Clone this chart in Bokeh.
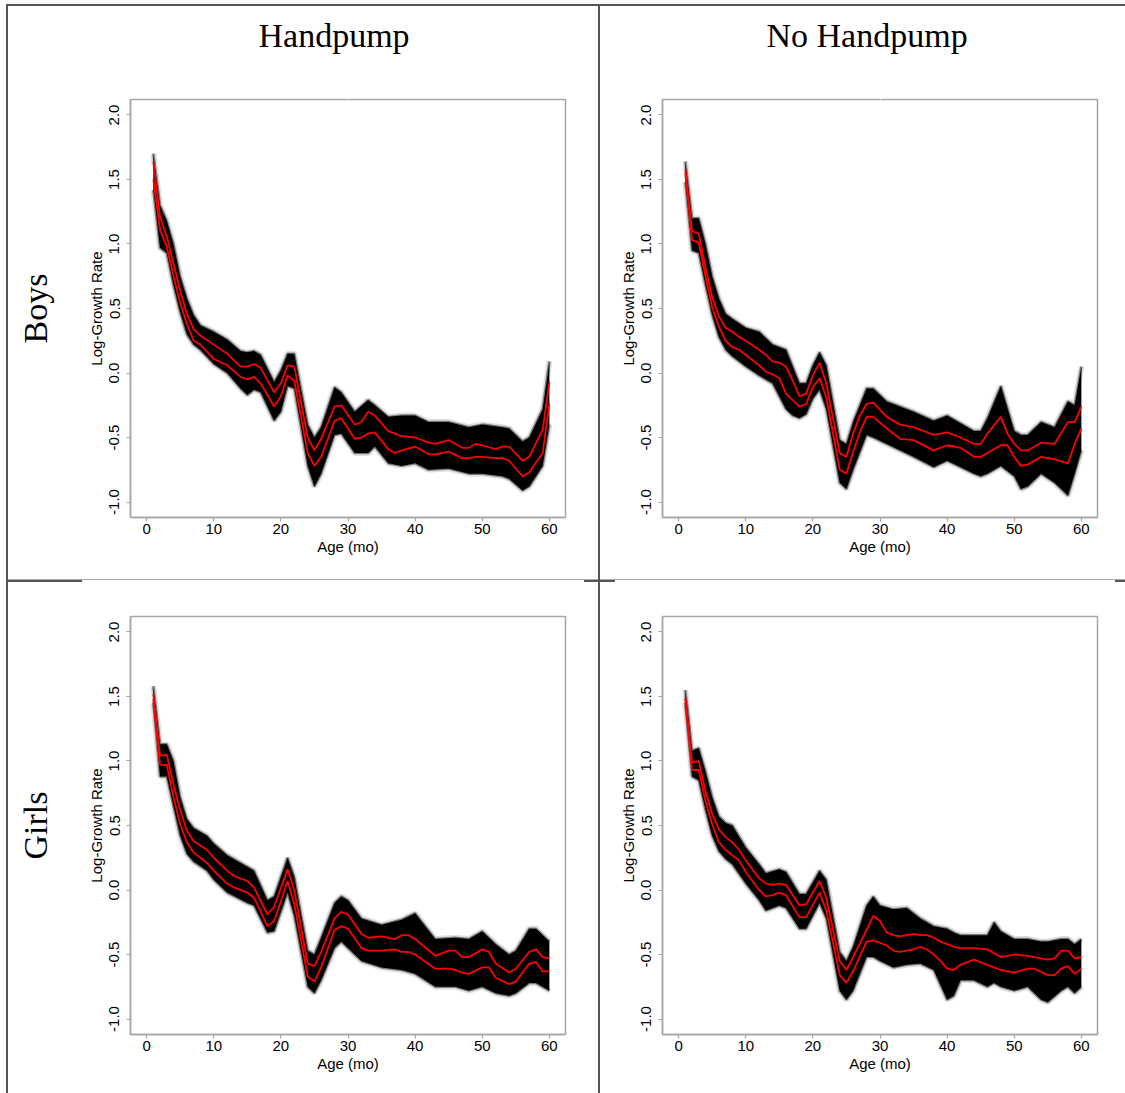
from bokeh.embed import file_html
from bokeh.layouts import column, row
from bokeh.models import (CustomJSTickFormatter, FixedTicker, LinearAxis, PrintfTickFormatter,
                          Range1d, Title)
from bokeh.plotting import figure
from bokeh.resources import INLINE

# ---------------------------------------------------------------- data
AGE_TICKS = [0, 10, 20, 30, 40, 50, 60]
RATE_TICKS = [-1.0, -0.5, 0.0, 0.5, 1.0, 1.5, 2.0]
COL_TITLES = ["Handpump", "No Handpump"]
ROW_TITLES = ["Boys", "Girls"]

# Boys, handpump
bh_red_m = [1, 2, 3, 4, 5, 6, 7, 8, 10, 12, 14, 15, 16, 17, 19, 20, 21, 22, 24, 25, 26, 28, 29,
            31, 32, 33, 34, 36, 37, 38, 40, 42, 43, 45, 47, 48, 49, 50, 52, 53, 54, 56, 57, 59, 60]
bh_red_hi = [1.64, 1.21, 1.06, 0.85, 0.64, 0.46, 0.34, 0.29, 0.22, 0.15, 0.05, 0.05, 0.07, 0.04,
             -0.15, -0.08, 0.06, 0.05, -0.50, -0.60, -0.51, -0.26, -0.25, -0.40, -0.38, -0.30,
             -0.33, -0.45, -0.47, -0.49, -0.50, -0.54, -0.55, -0.52, -0.58, -0.58, -0.55, -0.56,
             -0.59, -0.57, -0.57, -0.68, -0.65, -0.44, -0.07]
bh_red_lo = [1.50, 1.11, 0.98, 0.75, 0.54, 0.38, 0.25, 0.22, 0.11, 0.06, -0.03, -0.05, -0.03, -0.08,
             -0.26, -0.18, -0.02, -0.06, -0.62, -0.72, -0.65, -0.37, -0.35, -0.51, -0.50, -0.47,
             -0.46, -0.59, -0.62, -0.60, -0.57, -0.63, -0.63, -0.61, -0.66, -0.66, -0.65, -0.65,
             -0.66, -0.66, -0.68, -0.80, -0.77, -0.62, -0.24]
bh_band_m = [1, 2, 3, 4, 5, 6, 7, 8, 10, 12, 14, 15, 16, 17, 19, 20, 21, 22, 24, 25, 26, 28, 29,
             31, 33, 34, 36, 38, 40, 42, 45, 48, 50, 53, 54, 56, 57, 59, 60]
bh_band_hi = [1.70, 1.30, 1.18, 1.00, 0.75, 0.58, 0.45, 0.37, 0.32, 0.26, 0.17, 0.16, 0.17, 0.14,
              -0.07, 0.02, 0.15, 0.15, -0.40, -0.50, -0.42, -0.11, -0.15, -0.30, -0.21, -0.25,
              -0.34, -0.33, -0.33, -0.38, -0.38, -0.42, -0.40, -0.42, -0.43, -0.53, -0.50, -0.28, 0.09]
bh_band_lo = [1.42, 0.97, 0.93, 0.68, 0.47, 0.30, 0.22, 0.18, 0.07, 0.00, -0.12, -0.17, -0.13, -0.15,
              -0.37, -0.30, -0.10, -0.12, -0.72, -0.88, -0.78, -0.48, -0.47, -0.62, -0.62, -0.57,
              -0.70, -0.72, -0.70, -0.75, -0.74, -0.78, -0.78, -0.80, -0.82, -0.91, -0.88, -0.72, -0.40]

# Boys, no handpump
bn_red_m = [1, 2, 3, 4, 5, 6, 7, 8, 9, 10, 12, 13, 14, 15, 16, 17, 18, 19, 20, 21, 22, 24, 25, 26,
            27, 28, 29, 31, 33, 35, 38, 40, 42, 44, 45, 46, 48, 49, 50, 51, 52, 54, 56, 58, 59, 60]
bn_red_hi = [1.58, 1.10, 1.08, 0.82, 0.59, 0.44, 0.35, 0.32, 0.28, 0.25, 0.18, 0.14, 0.09, 0.08,
             0.05, -0.06, -0.18, -0.16, -0.02, 0.08, -0.08, -0.62, -0.65, -0.47, -0.33, -0.24,
             -0.23, -0.34, -0.40, -0.42, -0.48, -0.46, -0.50, -0.55, -0.55, -0.47, -0.34, -0.47,
             -0.55, -0.60, -0.60, -0.54, -0.55, -0.38, -0.38, -0.26]
bn_red_lo = [1.55, 1.03, 1.01, 0.75, 0.51, 0.36, 0.25, 0.20, 0.18, 0.14, 0.06, 0.01, -0.01, -0.04,
             -0.16, -0.21, -0.26, -0.24, -0.11, -0.04, -0.19, -0.75, -0.78, -0.61, -0.46, -0.34,
             -0.34, -0.43, -0.51, -0.52, -0.60, -0.56, -0.58, -0.65, -0.65, -0.62, -0.56, -0.56,
             -0.65, -0.72, -0.71, -0.65, -0.67, -0.70, -0.55, -0.43]
bn_band_m = [1, 2, 3, 4, 5, 6, 7, 8, 10, 12, 14, 16, 17, 18, 19, 20, 21, 22, 24, 25, 26, 28, 29,
             31, 35, 38, 40, 44, 45, 46, 48, 50, 51, 52, 54, 56, 58, 59, 60]
bn_band_hi = [1.64, 1.20, 1.20, 1.00, 0.75, 0.58, 0.46, 0.42, 0.35, 0.32, 0.22, 0.18, 0.05, -0.08,
              -0.08, 0.06, 0.16, 0.06, -0.52, -0.55, -0.38, -0.12, -0.12, -0.22, -0.30, -0.37,
              -0.33, -0.45, -0.45, -0.35, -0.10, -0.45, -0.48, -0.48, -0.38, -0.42, -0.22, -0.25, 0.05]
bn_band_lo = [1.48, 0.95, 0.93, 0.68, 0.45, 0.28, 0.18, 0.13, 0.05, -0.02, -0.08, -0.28, -0.33,
              -0.35, -0.32, -0.20, -0.13, -0.28, -0.85, -0.90, -0.75, -0.48, -0.50, -0.55, -0.65,
              -0.73, -0.68, -0.78, -0.80, -0.78, -0.72, -0.80, -0.90, -0.88, -0.78, -0.85, -0.95,
              -0.78, -0.60]

# Girls, handpump
gh_red_m = [1, 2, 3, 4, 5, 6, 7, 9, 10, 12, 13, 15, 16, 18, 19, 21, 22, 24, 25, 26, 28, 29, 30,
            32, 33, 35, 37, 38, 39, 40, 43, 45, 46, 47, 48, 50, 51, 52, 54, 55, 57, 58, 59, 60]
gh_red_hi = [1.52, 1.04, 1.05, 0.82, 0.62, 0.46, 0.38, 0.31, 0.25, 0.15, 0.11, 0.07, 0.02, -0.19,
             -0.13, 0.16, 0.00, -0.57, -0.59, -0.48, -0.22, -0.17, -0.19, -0.34, -0.37, -0.36,
             -0.38, -0.35, -0.35, -0.38, -0.51, -0.47, -0.47, -0.52, -0.52, -0.46, -0.48, -0.57,
             -0.64, -0.61, -0.48, -0.46, -0.52, -0.53]
gh_red_lo = [1.48, 0.97, 0.97, 0.72, 0.51, 0.37, 0.29, 0.21, 0.15, 0.05, 0.02, -0.02, -0.06, -0.28,
             -0.24, 0.07, -0.11, -0.67, -0.71, -0.60, -0.31, -0.28, -0.30, -0.45, -0.47, -0.47,
             -0.46, -0.48, -0.48, -0.50, -0.61, -0.61, -0.62, -0.64, -0.65, -0.60, -0.60, -0.68,
             -0.73, -0.71, -0.57, -0.56, -0.63, -0.63]
gh_band_m = [1, 2, 3, 4, 5, 6, 7, 9, 10, 12, 15, 16, 18, 19, 21, 22, 24, 25, 26, 28, 29, 30,
             32, 35, 38, 40, 43, 46, 48, 50, 52, 54, 55, 57, 58, 60]
gh_band_hi = [1.58, 1.13, 1.13, 1.00, 0.72, 0.55, 0.48, 0.42, 0.36, 0.27, 0.18, 0.15, -0.08, -0.05,
              0.25, 0.10, -0.47, -0.50, -0.37, -0.10, -0.05, -0.08, -0.22, -0.27, -0.23, -0.18,
              -0.38, -0.37, -0.38, -0.32, -0.42, -0.50, -0.47, -0.30, -0.30, -0.40]
gh_band_lo = [1.45, 0.88, 0.88, 0.65, 0.42, 0.28, 0.22, 0.15, 0.08, -0.02, -0.10, -0.12, -0.33,
              -0.32, -0.02, -0.20, -0.75, -0.80, -0.70, -0.45, -0.40, -0.45, -0.55, -0.60, -0.62,
              -0.65, -0.75, -0.75, -0.78, -0.75, -0.80, -0.82, -0.80, -0.72, -0.72, -0.78]

# Girls, no handpump
gn_red_m = [1, 2, 3, 4, 5, 6, 7, 8, 9, 10, 12, 13, 14, 15, 16, 18, 19, 21, 22, 24, 25, 26, 28,
            29, 30, 31, 32, 33, 35, 36, 37, 38, 39, 40, 41, 42, 44, 46, 48, 50, 52, 53, 55, 56,
            57, 58, 59, 60]
gn_red_hi = [1.49, 0.99, 1.00, 0.77, 0.59, 0.47, 0.41, 0.37, 0.31, 0.23, 0.09, 0.05, 0.04, 0.05,
             0.04, -0.12, -0.11, 0.07, -0.06, -0.55, -0.62, -0.52, -0.31, -0.20, -0.24, -0.33,
             -0.35, -0.36, -0.34, -0.35, -0.35, -0.37, -0.40, -0.42, -0.44, -0.45, -0.45, -0.46,
             -0.52, -0.50, -0.51, -0.52, -0.54, -0.53, -0.47, -0.47, -0.53, -0.52]
gn_red_lo = [1.48, 0.93, 0.93, 0.69, 0.51, 0.37, 0.31, 0.27, 0.23, 0.14, 0.00, -0.05, -0.04, -0.02,
             -0.04, -0.21, -0.21, -0.02, -0.16, -0.66, -0.72, -0.63, -0.40, -0.39, -0.41, -0.43,
             -0.47, -0.48, -0.46, -0.44, -0.46, -0.50, -0.55, -0.61, -0.62, -0.58, -0.54, -0.58,
             -0.62, -0.64, -0.61, -0.61, -0.66, -0.66, -0.61, -0.59, -0.65, -0.61]
gn_band_m = [1, 2, 3, 4, 5, 6, 7, 8, 10, 12, 13, 15, 16, 18, 19, 21, 22, 24, 25, 26, 28, 29, 30,
             32, 34, 36, 38, 40, 41, 42, 44, 46, 47, 48, 50, 52, 54, 55, 57, 58, 59, 60]
gn_band_hi = [1.55, 1.08, 1.10, 0.92, 0.72, 0.57, 0.52, 0.50, 0.33, 0.20, 0.13, 0.16, 0.14, -0.03,
              -0.03, 0.15, 0.08, -0.48, -0.55, -0.44, -0.12, -0.05, -0.12, -0.15, -0.14, -0.22,
              -0.28, -0.30, -0.33, -0.35, -0.35, -0.35, -0.25, -0.32, -0.38, -0.38, -0.40, -0.40,
              -0.38, -0.38, -0.42, -0.38]
gn_band_lo = [1.45, 0.88, 0.85, 0.62, 0.42, 0.30, 0.24, 0.20, 0.05, -0.08, -0.16, -0.12, -0.14,
              -0.30, -0.30, -0.10, -0.22, -0.78, -0.85, -0.78, -0.52, -0.52, -0.55, -0.60, -0.58,
              -0.57, -0.62, -0.85, -0.82, -0.70, -0.70, -0.75, -0.72, -0.75, -0.78, -0.75, -0.85,
              -0.87, -0.78, -0.75, -0.80, -0.75]

# ---------------------------------------------------------------- styling
FRAME_GRAY = "#a6a6a6"
RULE_DARK = "#555555"
RULE_LIGHT = "#ababab"
SANS = "Liberation Sans"
SERIF = "Liberation Serif"


def gap(p, side, size, at):
    """Blank axis (one white, unlabeled tick) spacing a heading away from the frame."""
    p.add_layout(LinearAxis(ticker=FixedTicker(ticks=[at]), major_tick_in=0,
                            major_tick_out=size, minor_tick_in=0, minor_tick_out=0,
                            major_label_standoff=0, axis_label_standoff=0,
                            major_label_text_font_size="1px",
                            formatter=CustomJSTickFormatter(code="return ''"),
                            axis_line_color=None, major_tick_line_color="white",
                            minor_tick_line_color=None), side)


def heading(p, text, side, align="center", offset=0):
    p.add_layout(Title(text=text, align=align, offset=offset, standoff=0,
                       text_font=SERIF, text_font_size="34px", text_font_style="normal",
                       text_color="black"), side)


def panel(ml, mr, mt, mb, red_m, red_hi, red_lo, band_m, band_hi, band_lo):
    p = figure(frame_width=435, frame_height=418,
               min_border_left=ml, min_border_right=mr,
               min_border_top=mt, min_border_bottom=mb,
               x_range=Range1d(-2.4, 62.4), y_range=Range1d(-1.12, 2.12),
               toolbar_location=None, tools="", output_backend="svg",
               background_fill_color="white", border_fill_color=None)
    p.grid.visible = False
    p.outline_line_color = FRAME_GRAY
    p.outline_line_width = 1.5

    for ax in (p.xaxis[0], p.yaxis[0]):
        ax.axis_line_color = FRAME_GRAY
        ax.axis_line_width = 1.5
        ax.major_tick_line_color = FRAME_GRAY
        ax.major_tick_line_width = 1.2
        ax.major_tick_in = 0
        ax.major_tick_out = 4
        ax.minor_tick_line_color = None
        ax.major_label_text_font = SANS
        ax.major_label_text_font_size = "15px"
        ax.major_label_text_color = "black"
        ax.axis_label_text_font = SANS
        ax.axis_label_text_font_size = "15px"
        ax.axis_label_text_font_style = "normal"
        ax.axis_label_text_color = "black"

    p.xaxis.ticker = FixedTicker(ticks=AGE_TICKS)
    p.xaxis.axis_label = "Age (mo)"
    p.xaxis.major_label_standoff = 2
    p.xaxis.axis_label_standoff = 1

    p.yaxis.ticker = FixedTicker(ticks=RATE_TICKS)
    p.yaxis.formatter = PrintfTickFormatter(format="%.1f")
    p.yaxis.major_label_orientation = "vertical"
    p.yaxis.axis_label = "Log-Growth Rate"
    p.yaxis.major_label_standoff = 7
    p.yaxis.axis_label_standoff = 2

    # posterior draws: dense band with soft translucent edges
    p.varea(x=band_m, y1=band_lo, y2=band_hi, fill_color="black", fill_alpha=1.0)
    for ys in (band_hi, band_lo):
        p.line(band_m, ys, line_color="black", line_alpha=0.12, line_width=6)
        p.line(band_m, ys, line_color="black", line_alpha=0.45, line_width=2.5)

    # interval bounds
    p.line(red_m, red_hi, line_color="#ff0000", line_width=1.8)
    p.line(red_m, red_lo, line_color="#ff0000", line_width=1.8)
    return p


tl = panel(130, 35, 99, 62, bh_red_m, bh_red_hi, bh_red_lo, bh_band_m, bh_band_hi, bh_band_lo)
tr = panel(62, 28, 99, 62, bn_red_m, bn_red_hi, bn_red_lo, bn_band_m, bn_band_hi, bn_band_lo)
bl = panel(130, 35, 37, 59, gh_red_m, gh_red_hi, gh_red_lo, gh_band_m, gh_band_hi, gh_band_lo)
br = panel(62, 28, 37, 59, gn_red_m, gn_red_hi, gn_red_lo, gn_band_m, gn_band_hi, gn_band_lo)

# column headings: spacer first (next to the frame), heading outside it
gap(tl, "above", 46, 30)
heading(tl, COL_TITLES[0], "above", align="left", offset=128)
gap(tr, "above", 46, 30)
heading(tr, COL_TITLES[1], "above", align="left", offset=104)

# row headings, outside the value axis
gap(tl, "left", 31, 1.75)
heading(tl, ROW_TITLES[0], "left")
gap(bl, "left", 31, 1.75)
heading(bl, ROW_TITLES[1], "left")

# table rules, painted behind the transparent figure borders
DARK = f"linear-gradient({RULE_DARK},{RULE_DARK})"
LIGHT = f"linear-gradient({RULE_LIGHT},{RULE_LIGHT})"
rules = [
    (DARK, "6px 4px", "1119px 2px"),      # top
    (DARK, "6px 4px", "2px 1089px"),      # left
    (DARK, "598px 4px", "2px 1089px"),    # column divider
    (LIGHT, "6px 579px", "1119px 1px"),   # row divider
    (DARK, "6px 580px", "76px 2px"),
    (DARK, "584px 580px", "31px 2px"),
    (DARK, "1115px 580px", "10px 2px"),
]
background = ", ".join(f"{img} {pos} / {size} no-repeat" for img, pos, size in rules)

layout = column(row(tl, tr), row(bl, br),
                styles={"background": background + ", white"})

with open("out.html", "w") as f:
    f.write(file_html(layout, INLINE))
